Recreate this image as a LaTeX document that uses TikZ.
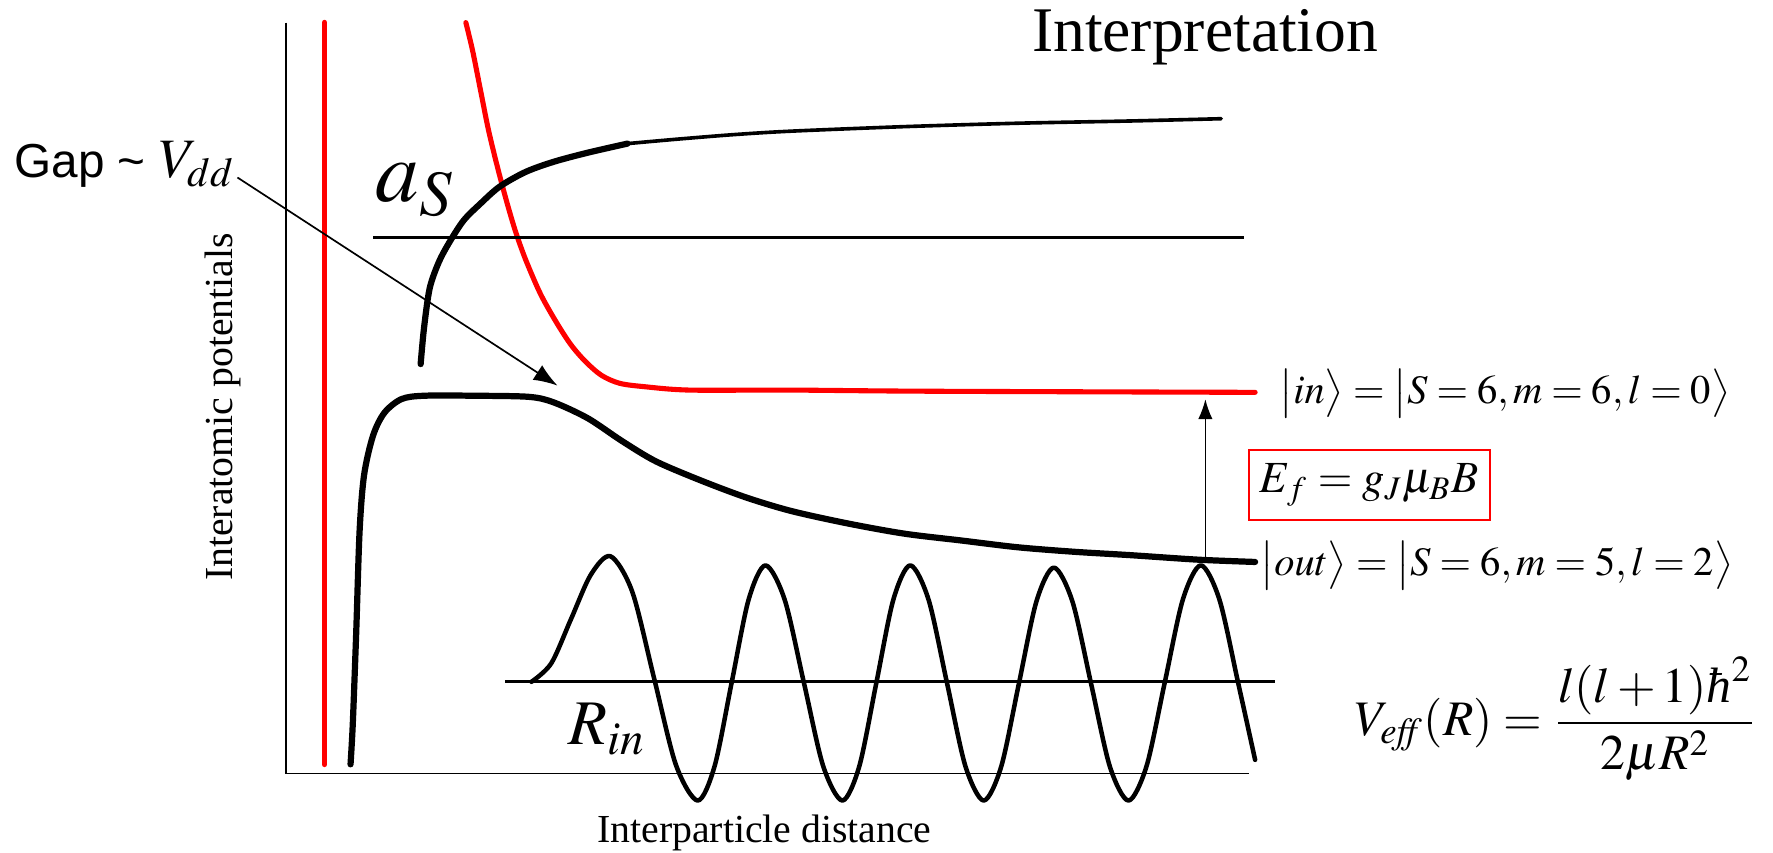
\documentclass[tikz,border=0pt]{standalone}
\usepackage{mathptmx}
\usepackage[no-math]{fontspec}
\setmainfont{Liberation Serif}
\newfontfamily\arialfont{Liberation Sans}
\usetikzlibrary{arrows.meta}
\newlength{\du}
\setlength{\du}{0.1mm}
\newcommand{\hbarglyph}{\mbox{\itshape ħ}}
\tikzset{
  potline/.style={line width=5.5\du, line cap=round, line join=round},
  levelline/.style={line width=2.8\du},
  gaparrow/.style={line width=1.5\du, -{Latex[length=6pt,width=4.4pt]}},
  txt/.style={inner sep=0pt},
}
\begin{document}
\begin{tikzpicture}[x=1\du,y=1\du]
\pgftransformxscale{1.000000}
\pgftransformyscale{-1.000000}
\useasboundingbox (0\du,0\du) rectangle (1568\du,754\du);
% axes
\pgfsetlinewidth{1.500000\du}
\definecolor{dialinecolor}{rgb}{0.000000, 0.000000, 0.000000}
\pgfsetstrokecolor{dialinecolor}
\draw (253\du,20\du)--(253\du,684\du)--(1105\du,684\du);
% red wall
{
\definecolor{dialinecolor}{rgb}{1.000000, 0.000000, 0.000000}
\pgfsetstrokecolor{dialinecolor}
\draw[potline, line width=5\du] (287\du,20\du)--(287\du,676\du);
}
% red potential (in channel)
{
\definecolor{dialinecolor}{rgb}{1.000000, 0.000000, 0.000000}
\pgfsetstrokecolor{dialinecolor}
\draw[potline, line width=4.5\du] plot[smooth] coordinates {(412\du,20\du) (418\du,45\du) (425\du,80\du) (432\du,115\du) (440\du,148\du) (448\du,178\du) (456\du,205\du) (465\du,230\du) (478\du,260\du) (492\du,285\du) (505\du,305\du) (518\du,320\du) (532\du,332\du) (548\du,339\du) (570\du,342\du) (610\du,345\du) (700\du,345\du) (820\du,346\du) (1110\du,347\du)};
}
% black potential (out channel, with barrier)
\definecolor{dialinecolor}{rgb}{0.000000, 0.000000, 0.000000}
\pgfsetstrokecolor{dialinecolor}
\draw[potline] plot[smooth] coordinates {(310\du,676\du) (312\du,640\du) (315\du,560\du) (318\du,470\du) (322\du,420\du) (330\du,385\du) (340\du,365\du) (355\du,353\du) (375\du,350\du) (420\du,350\du) (468\du,351\du) (490\du,356\du) (520\du,370\du) (550\du,390\du) (580\du,408\du) (620\du,425\du) (660\du,440\du) (700\du,452\du) (750\du,463\du) (800\du,472\du) (850\du,478\du) (900\du,484\du) (950\du,488\du) (1000\du,491\du) (1060\du,495\du) (1110\du,497\du)};
% upper black curve
\draw[potline] plot[smooth] coordinates {(372\du,322\du) (375\du,290\du) (380\du,255\du) (388\du,232\du) (397\du,215\du) (410\du,195\du) (425\du,180\du) (442\du,165\du) (465\du,152\du) (490\du,143\du) (520\du,135\du) (555\du,127\du)};
\draw[potline, line width=3.2\du] plot[smooth] coordinates {(555\du,127\du) (600\du,123\du) (650\du,119\du) (700\du,116\du) (800\du,112\du) (900\du,109\du) (1000\du,107\du) (1080\du,105\du)};
% level lines
\draw[levelline] (330\du,210\du)--(1100\du,210\du);
\draw[levelline] (447\du,603\du)--(1128\du,603\du);
% wave function
\draw[potline, line width=4\du] plot[smooth] coordinates {(470\du,603\du) (487.5\du,586.7\du) (505\du,547.5\du) (522.5\du,508.3\du) (540\du,492\du) (559.25\du,523.6\du) (578.5\du,600\du) (597.75\du,676.4\du) (617\du,708\du) (632\du,677.5\du) (647\du,604\du) (662\du,530.5\du) (677\du,500\du) (694\du,530.5\du) (711\du,604\du) (728\du,677.5\du) (745\du,708\du) (760\du,677.5\du) (775\du,604\du) (790\du,530.5\du) (805\du,500\du) (821.25\du,530.5\du) (837.5\du,604\du) (853.75\du,677.5\du) (870\du,708\du) (885.5\du,677.8\du) (901\du,605\du) (916.5\du,532.2\du) (932\du,502\du) (948.5\du,532.2\du) (965\du,605\du) (981.5\du,677.8\du) (998\du,708\du) (1014\du,677.5\du) (1030\du,604\du) (1046\du,530.5\du) (1062\du,500\du) (1078.5\du,530.5\du) (1095\du,604\du) (1110\du,672\du)};
% setfont left to latex
\node[txt, anchor=base west] (title) at (912\du,46\du){\fontsize{16}{18}\selectfont Interpretation};
\node[txt, rotate=90] (ylabel) at (197\du,360\du){\fontsize{10}{12}\selectfont Interatomic potentials};
\node[txt] (xlabel) at (676\du,737\du){\fontsize{10}{12}\selectfont Interparticle distance};
\node[txt, anchor=base west] (gap) at (12\du,157\du){\arialfont\fontsize{12}{14}\selectfont Gap \textasciitilde\ {\fontsize{14}{16}\selectfont$V_{dd}$}};
\node[txt] (ascat) at (367\du,168\du){\fontsize{22}{24}\selectfont $a_S$};
\node[txt] (rin) at (537\du,645\du){\fontsize{16}{18}\selectfont $R_{in}$};
\node[txt] (instate) at (1331\du,348\du){\fontsize{10.2}{12}\selectfont $\bigl|in\bigr\rangle=\bigl|S=6,m=6,l=0\bigr\rangle$};
\node[txt] (outstate) at (1324\du,500\du){\fontsize{10.2}{12}\selectfont $\bigl|out\bigr\rangle=\bigl|S=6,m=5,l=2\bigr\rangle$};
\node[txt] (veff) at (1376\du,636\du){\fontsize{12.5}{15}\selectfont $V_{\mathit{eff}}(R)={\displaystyle\frac{l(l+1)\hbarglyph^2}{2\mu R^2}}$};
{
\definecolor{dialinecolor}{rgb}{1.000000, 0.000000, 0.000000}
\node[draw=dialinecolor, line width=1.5\du, minimum width=213\du, minimum height=62\du, inner sep=0pt] (zeeman) at (1211\du,429\du){\fontsize{11.2}{14}\selectfont $E_f=g_J\mu_B B$};
}
% arrows
\coordinate (gaptail) at (210\du,157\du);
\coordinate (gaptip) at (493\du,341\du);
\draw[gaparrow] (gaptail)--(gaptip);
\coordinate (outlevel) at (1066\du,497\du);
\coordinate (inlevel) at (1066\du,353\du);
\draw[gaparrow, -{Latex[length=5pt,width=3.6pt]}] (outlevel)--(inlevel);
\end{tikzpicture}
\end{document}
